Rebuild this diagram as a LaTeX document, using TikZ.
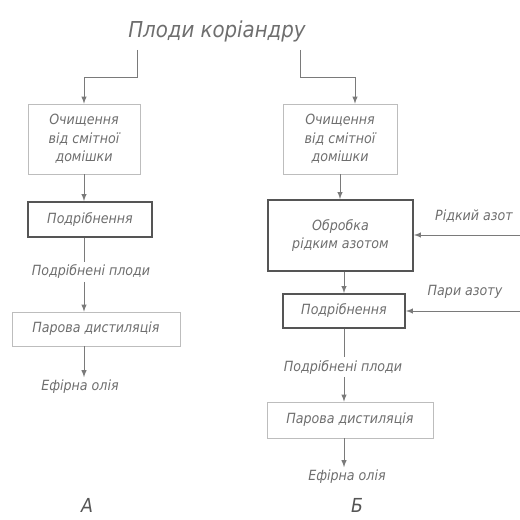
\documentclass[tikz,border=0pt]{standalone}
\usepackage{fontspec}
\setmainfont{DejaVu Sans Condensed}
\usetikzlibrary{positioning}
\definecolor{inkgray}{HTML}{6E6E6E}
\definecolor{rulegray}{HTML}{BDBDBD}
\definecolor{heavygray}{HTML}{555555}
\definecolor{linegray}{HTML}{7A7A7A}

\begin{document}
\begin{tikzpicture}[-latex ,x=0.02cm ,y=-0.02cm ,
    flow/.style ={draw=linegray ,thin},
    stage/.style ={rectangle ,draw=rulegray ,thin ,text=inkgray ,align=center ,
    inner sep=0pt ,font=\itshape\fontsize{8}{10.5}\selectfont},
    heavy/.style ={stage ,draw=heavygray ,line width=1.1pt},
    note/.style ={text=inkgray ,inner sep=1.5pt ,font=\itshape\fontsize{8}{10}\selectfont},
    mark label/.style ={text=heavygray ,inner sep=1pt ,font=\itshape\fontsize{11}{12}\selectfont}]
    \useasboundingbox (0,0) rectangle (520,520);
    % title
    \node[text=inkgray ,font=\itshape\fontsize{12.5}{14}\selectfont] (title) at (217,31) {Плоди коріандру};
    \coordinate (tl) at (137,50);
    \coordinate (tr) at (300,50);
    % column A
    \node[stage ,minimum width=2.24cm ,minimum height=1.4cm] (l1) at (84,139) {Очищення\\від смітної\\домішки};
    \node[heavy ,minimum width=2.48cm ,minimum height=0.7cm] (l2) at (90,219.5) {Подрібнення};
    \node[note] (lp) at (91,272) {Подрібнені плоди};
    \node[stage ,minimum width=3.36cm ,minimum height=0.68cm] (l3) at (96,329) {Парова дистиляція};
    \node[note] (lo) at (80,387) {Ефірна олія};
    \node[mark label] (la) at (87,505) {А};
    % column B
    \node[stage ,minimum width=2.28cm ,minimum height=1.4cm] (r1) at (340,139) {Очищення\\від смітної\\домішки};
    \node[heavy ,minimum width=2.9cm ,minimum height=1.42cm] (r2) at (340.5,235.5) {Обробка\\рідким азотом};
    \node[heavy ,minimum width=2.44cm ,minimum height=0.68cm] (r3) at (344,311) {Подрібнення};
    \node[note] (rp) at (343,367) {Подрібнені плоди};
    \node[stage ,minimum width=3.32cm ,minimum height=0.72cm] (r4) at (350,420) {Парова дистиляція};
    \node[note] (ro) at (347,477) {Ефірна олія};
    \node[mark label] (rb) at (357,505) {Б};
    \node[note] (ln) at (474,216) {Рідкий азот};
    \node[note] (vn) at (465,292) {Пари азоту};
    \coordinate (n1) at (520,235);
    \coordinate (n2) at (520,311);

    \draw[flow] (tl) -- ++(0,27) -| (l1.north);
    \draw[flow] (tr) -- ++(0,27) -| ([xshift=0.3cm]r1.north);
    \draw[flow] (l1.south) -- (l1.south |- l2.north);
    \draw[flow ,-] (l1.south |- l2.south) -- (l1.south |- lp.north);
    \draw[flow] (l1.south |- lp.south) -- (l1.south |- l3.north);
    \draw[flow] (l1.south |- l3.south) -- (l1.south |- lo.north);
    \draw[flow] (r1.south) -- (r1.south |- r2.north);
    \draw[flow] (r3.north |- r2.south) -- (r3.north);
    \draw[flow ,-] (r3.south) -- (r3.south |- rp.north);
    \draw[flow] (r3.south |- rp.south) -- (r3.south |- r4.north);
    \draw[flow] (r3.south |- r4.south) -- (r3.south |- ro.north);
    \draw[flow] (n1) -- (r2.east |- n1);
    \draw[flow] (n2) -- (r3.east |- n2);
\end{tikzpicture}
\end{document}
